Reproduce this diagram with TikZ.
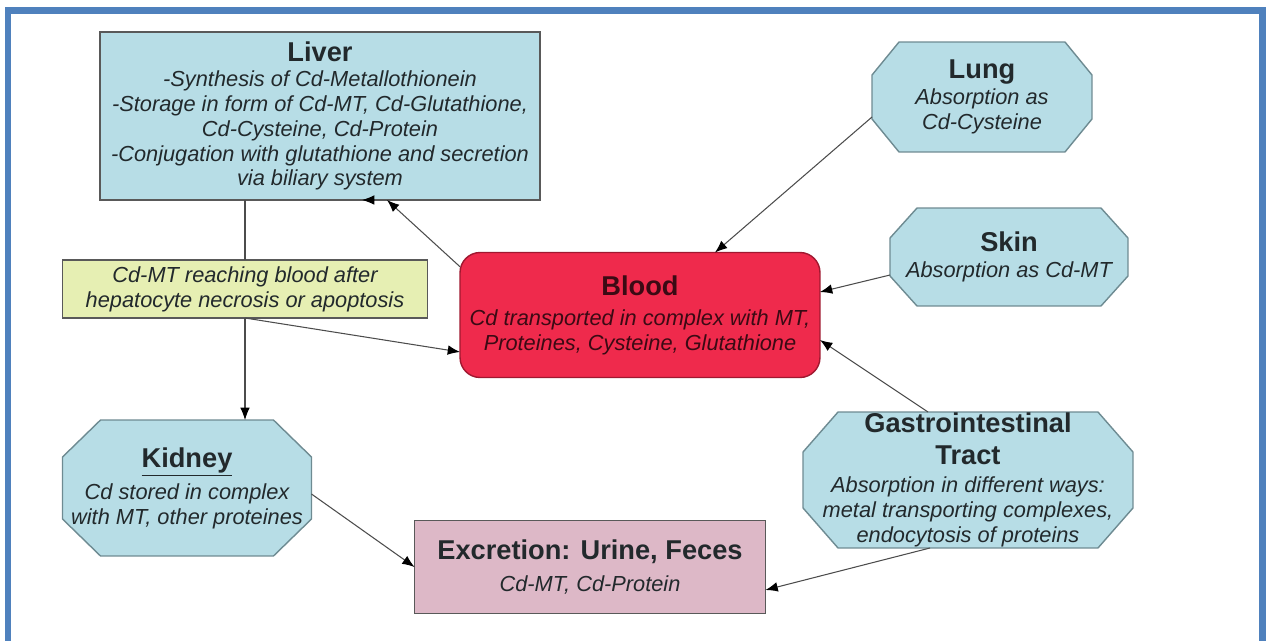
\documentclass[tikz,border=0pt]{standalone}
\usepackage{fontspec}
\setmainfont{Liberation Sans}
\usepackage{tikz}
\usetikzlibrary{backgrounds,arrows.meta}

\definecolor{organblue}{HTML}{B7DDE6}
\definecolor{organline}{HTML}{6E8B92}
\definecolor{bloodred}{HTML}{EF2A4C}
\definecolor{bloodline}{HTML}{A01830}
\definecolor{bloodink}{HTML}{3B0A14}
\definecolor{noteyellow}{HTML}{E6EFB3}
\definecolor{excrpink}{HTML}{DDB8C7}
\definecolor{frameblue}{HTML}{4F81BD}
\definecolor{inktext}{HTML}{22292C}

\newcommand{\hd}[1]{{\fontsize{15.5}{18}\selectfont\bfseries\upshape #1}}
% octagon round a node: name, chamfer in x, chamfer in y
\newcommand{\octa}[3]{\draw[organline,fill=organblue,line width=0.8pt] ([xshift=#2]#1.north west) -- ([xshift=-#2]#1.north east) -- ([yshift=-#3]#1.north east) -- ([yshift=#3]#1.south east) -- ([xshift=-#2]#1.south east) -- ([xshift=#2]#1.south west) -- ([yshift=#3]#1.south west) -- ([yshift=-#3]#1.north west) -- cycle;}

\begin{document}
\begin{tikzpicture}[x=0.02cm,y=-0.02cm,
  >={Latex[length=7pt,width=5.5pt,color=black]},
  txt/.style={align=center,inner sep=0pt,outer sep=0pt,text=inktext,font=\fontsize{12.4}{14.2}\selectfont\itshape},
  organ/.style={txt,rectangle},
  box/.style={txt,rectangle,draw=gray!70!black,line width=0.8pt},
  link/.style={draw=gray!60!black,line width=0.6pt}]
        \useasboundingbox (0,0) rectangle (1268,640);
        \draw[frameblue,line width=0.14cm] (8,10.5) rectangle (1262.5,700);

        \node[box,fill=organblue,minimum width=8.8cm,minimum height=3.36cm] (liver) at (320,116) {\hd{Liver}\\-Synthesis of Cd-Metallothionein\\-Storage in form of Cd-MT, Cd-Glutathione,\\Cd-Cysteine, Cd-Protein\\-Conjugation with glutathione and secretion\\via biliary system};
        \node[organ,minimum width=4.4cm,minimum height=2.2cm] (lung) at (982,97) {\hd{Lung}\\[1pt]Absorption as\\Cd-Cysteine};
        \node[organ,minimum width=4.76cm,minimum height=1.96cm] (skin) at (1009,257) {\hd{Skin}\\[1pt]Absorption as Cd-MT};
        \node[box,fill=bloodred,draw=bloodline,rounded corners=0.4cm,minimum width=7.2cm,minimum height=2.5cm,text=bloodink] (blood) at (640,315) {\hd{Blood}\\[3pt]Cd transported in complex with MT,\\Proteines, Cysteine, Glutathione};
        \node[box,fill=noteyellow,minimum width=7.3cm,minimum height=1.16cm] (hepa) at (245,289) {Cd-MT reaching blood after\\hepatocyte necrosis or apoptosis};
        \node[organ,minimum width=4.98cm,minimum height=2.72cm] (kidney) at (187,488) {\hd{\underline{Kidney}}\\[3pt]Cd stored in complex\\with MT, other proteines};
        \node[organ,minimum width=6.6cm,minimum height=2.72cm] (gi) at (968,480) {\hd{Gastrointestinal}\\[4pt]\hd{Tract}\\[2pt]Absorption in different ways:\\metal transporting complexes,\\endocytosis of proteins};
        \node[box,fill=excrpink,minimum width=7.02cm,minimum height=1.86cm] (excr) at (590,567) {\hd{Excretion: Urine, Feces}\\[4pt]Cd-MT, Cd-Protein};

        \begin{scope}[on background layer]
            \octa{lung}{0.54cm}{0.66cm}
            \octa{skin}{0.54cm}{0.6cm}
            \octa{kidney}{0.76cm}{0.74cm}
            \octa{gi}{0.7cm}{0.8cm}
        \end{scope}

        \draw[link] (hepa.north) -- (hepa.north |- liver.south);
        \draw[link,->] (hepa.south) -- (hepa.south |- kidney.north);
        \draw[link,->] (hepa.south) -- ([yshift=-0.74cm]blood.west);
        \draw[link,->] (blood.165) -- ([xshift=1.34cm]liver.south);
        \coordinate (stub) at ([xshift=1.08cm]liver.south);
        \draw[link,->] (stub) -- ([xshift=0.84cm]liver.south);
        \draw[link,->] ([yshift=-0.4cm]lung.west) -- ([xshift=1.5cm]blood.north);
        \draw[link,->] ([yshift=-0.36cm]skin.west) -- ([yshift=0.46cm]blood.east);
        \draw[link,->] ([xshift=-0.8cm]gi.north) -- ([yshift=-0.5cm]blood.east);
        \draw[link,->] ([yshift=-0.12cm]kidney.east) -- (excr.west);
        \draw[link,->] ([xshift=-0.76cm]gi.south) -- ([yshift=-0.46cm]excr.east);
    \end{tikzpicture}
\end{document}
